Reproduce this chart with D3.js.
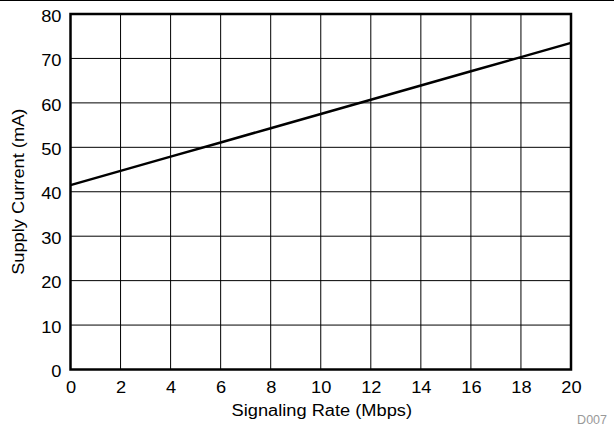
<!DOCTYPE html>
<html><head><meta charset="utf-8">
<script src="https://cdn.jsdelivr.net/npm/d3@7"></script>
<style>body{margin:0;background:#fff}svg{display:block}text{font-family:"Liberation Sans",Arial,sans-serif}</style>
</head><body>
<svg id="c" width="614" height="427"></svg>
<script>
const rate = [0, 2, 4, 6, 8, 10, 12, 14, 16, 18, 20];
const current = [41.5, 44.7, 47.9, 51.1, 54.3, 57.5, 60.7, 63.9, 67.1, 70.3, 73.5];
const xTicks = [0, 2, 4, 6, 8, 10, 12, 14, 16, 18, 20];
const yTicks = [0, 10, 20, 30, 40, 50, 60, 70, 80];

const svg = d3.select("#c");
const L = 70.5, R = 571, T = 14, B = 369.5;
const x = d3.scaleLinear().domain([0, 20]).range([L, R]);
const y = d3.scaleLinear().domain([0, 80]).range([B, T]);
const FONT = '"Liberation Sans",Arial,sans-serif';

svg.append("line").attr("x1", 0).attr("x2", 614).attr("y1", 0.5).attr("y2", 0.5).attr("stroke", "#000").attr("stroke-width", 1);

const g = svg.append("g");
g.selectAll(".vg").data(xTicks).join("line").attr("x1", d => x(d)).attr("x2", d => x(d)).attr("y1", T).attr("y2", B).attr("stroke", "#000").attr("stroke-width", 1);
g.selectAll(".hg").data(yTicks).join("line").attr("y1", d => y(d)).attr("y2", d => y(d)).attr("x1", L).attr("x2", R).attr("stroke", "#000").attr("stroke-width", 1);

svg.append("path").datum(rate.map((r, i) => [r, current[i]]))
  .attr("d", d3.line().x(d => x(d[0])).y(d => y(d[1])))
  .attr("fill", "none").attr("stroke", "#000").attr("stroke-width", 2.5);

svg.append("rect").attr("x", L).attr("y", T).attr("width", R - L).attr("height", B - T).attr("fill", "none").attr("stroke", "#000").attr("stroke-width", 2.5);

const xa = svg.append("g").attr("transform", `translate(0,${B})`).call(d3.axisBottom(x).tickValues(xTicks).tickSize(0).tickPadding(12));
xa.select(".domain").remove();
xa.selectAll("text").attr("font-size", 16).attr("font-family", FONT).attr("fill", "#000");
const ya = svg.append("g").attr("transform", `translate(${L},0)`).call(d3.axisLeft(y).tickValues(yTicks).tickSize(0).tickPadding(9));
ya.select(".domain").remove();
ya.selectAll("text").attr("font-size", 16).attr("font-family", FONT).attr("fill", "#000").attr("dy", "0.45em");

svg.append("text").attr("x", (L + R) / 2 + 1).attr("y", 415.5).attr("text-anchor", "middle").attr("font-size", 16).attr("class", "st").text("Signaling Rate (Mbps)");
svg.append("text").attr("transform", `translate(24,${(T + B) / 2 + 0}) rotate(-90)`).attr("text-anchor", "middle").attr("font-size", 16).attr("class", "st").text("Supply Current (mA)");
svg.append("text").attr("x", 607).attr("y", 423.5).attr("text-anchor", "end").attr("font-size", 12.5).attr("fill", "#999").text("D007");

// horizontal stretch to match reference glyph width
svg.selectAll("g.tick text, text.st").each(function() {
  const w = this.getComputedTextLength();
  d3.select(this).attr("textLength", w * 1.14).attr("lengthAdjust", "spacingAndGlyphs");
});
</script>
</body></html>
